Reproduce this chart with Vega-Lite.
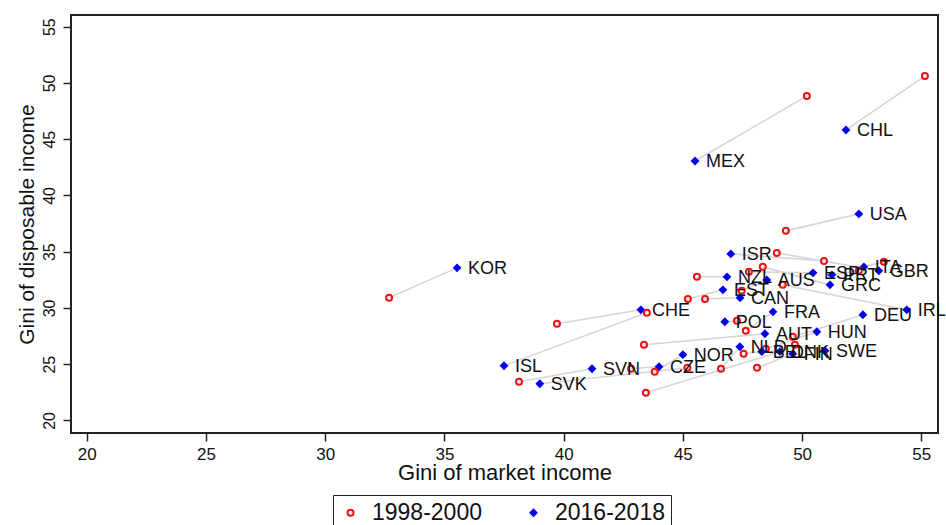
{
  "$schema": "https://vega.github.io/schema/vega-lite/v6.json",
  "width": 867,
  "height": 418,
  "autosize": {"type": "none"},
  "padding": {"left": 71, "top": 15, "right": 8, "bottom": 92},
  "background": "white",
  "config": {
    "font": "Liberation Sans",
    "view": {"stroke": "#222222", "strokeWidth": 2},
    "axis": {"grid": false, "domain": false, "tickColor": "#222222", "tickSize": 8, "tickWidth": 1.5, "labelColor": "#111111", "titleColor": "#111111", "titleFontWeight": "normal"}
  },
  "data": {
    "values": [
      {"country": "CHL", "period": "1998-2000", "market": 55.15, "disposable": 50.61},
      {"country": "CHL", "period": "2016-2018", "market": 51.84, "disposable": 45.82},
      {"country": "MEX", "period": "1998-2000", "market": 50.2, "disposable": 48.84},
      {"country": "MEX", "period": "2016-2018", "market": 45.51, "disposable": 43.06},
      {"country": "USA", "period": "1998-2000", "market": 49.32, "disposable": 36.85},
      {"country": "USA", "period": "2016-2018", "market": 52.38, "disposable": 38.36},
      {"country": "KOR", "period": "1998-2000", "market": 32.68, "disposable": 30.9},
      {"country": "KOR", "period": "2016-2018", "market": 35.53, "disposable": 33.56},
      {"country": "ISR", "period": "1998-2000", "market": 50.92, "disposable": 34.18},
      {"country": "ISR", "period": "2016-2018", "market": 47.01, "disposable": 34.8},
      {"country": "GBR", "period": "1998-2000", "market": 48.94, "disposable": 34.89},
      {"country": "GBR", "period": "2016-2018", "market": 53.22, "disposable": 33.3},
      {"country": "ITA", "period": "1998-2000", "market": 53.43, "disposable": 34.1},
      {"country": "ITA", "period": "2016-2018", "market": 52.59, "disposable": 33.65},
      {"country": "PRT", "period": "1998-2000", "market": 52.38, "disposable": 33.3},
      {"country": "PRT", "period": "2016-2018", "market": 51.25, "disposable": 32.94},
      {"country": "ESP", "period": "1998-2000", "market": 47.77, "disposable": 33.21},
      {"country": "ESP", "period": "2016-2018", "market": 50.46, "disposable": 33.12},
      {"country": "GRC", "period": "1998-2000", "market": 48.35, "disposable": 33.65},
      {"country": "GRC", "period": "2016-2018", "market": 51.17, "disposable": 32.05},
      {"country": "AUS", "period": "1998-2000", "market": 47.47, "disposable": 31.52},
      {"country": "AUS", "period": "2016-2018", "market": 48.52, "disposable": 32.49},
      {"country": "NZL", "period": "1998-2000", "market": 45.59, "disposable": 32.76},
      {"country": "NZL", "period": "2016-2018", "market": 46.85, "disposable": 32.76},
      {"country": "EST", "period": "1998-2000", "market": 45.21, "disposable": 30.8},
      {"country": "EST", "period": "2016-2018", "market": 46.68, "disposable": 31.61},
      {"country": "CAN", "period": "1998-2000", "market": 45.93, "disposable": 30.8},
      {"country": "CAN", "period": "2016-2018", "market": 47.4, "disposable": 30.9},
      {"country": "FRA", "period": "1998-2000", "market": 47.64, "disposable": 27.97},
      {"country": "FRA", "period": "2016-2018", "market": 48.78, "disposable": 29.65},
      {"country": "POL", "period": "1998-2000", "market": 47.27, "disposable": 28.85},
      {"country": "POL", "period": "2016-2018", "market": 46.76, "disposable": 28.77},
      {"country": "AUT", "period": "1998-2000", "market": 43.37, "disposable": 26.72},
      {"country": "AUT", "period": "2016-2018", "market": 48.44, "disposable": 27.7},
      {"country": "DEU", "period": "1998-2000", "market": 49.61, "disposable": 27.43},
      {"country": "DEU", "period": "2016-2018", "market": 52.55, "disposable": 29.39},
      {"country": "IRL", "period": "1998-2000", "market": 49.19, "disposable": 32.05},
      {"country": "IRL", "period": "2016-2018", "market": 54.39, "disposable": 29.83},
      {"country": "CHE", "period": "1998-2000", "market": 39.72, "disposable": 28.59},
      {"country": "CHE", "period": "2016-2018", "market": 43.24, "disposable": 29.83},
      {"country": "ISL", "period": "1998-2000", "market": 43.49, "disposable": 29.56},
      {"country": "ISL", "period": "2016-2018", "market": 37.5, "disposable": 24.86},
      {"country": "SVN", "period": "1998-2000", "market": 38.13, "disposable": 23.44},
      {"country": "SVN", "period": "2016-2018", "market": 41.19, "disposable": 24.59},
      {"country": "CZE", "period": "1998-2000", "market": 42.83, "disposable": 24.59},
      {"country": "CZE", "period": "2016-2018", "market": 44.0, "disposable": 24.77},
      {"country": "SVK", "period": "1998-2000", "market": 45.19, "disposable": 24.68},
      {"country": "SVK", "period": "2016-2018", "market": 39.0, "disposable": 23.26},
      {"country": "NOR", "period": "1998-2000", "market": 43.82, "disposable": 24.33},
      {"country": "NOR", "period": "2016-2018", "market": 45.0, "disposable": 25.84},
      {"country": "HUN", "period": "1998-2000", "market": 48.48, "disposable": 26.37},
      {"country": "HUN", "period": "2016-2018", "market": 50.62, "disposable": 27.88},
      {"country": "NLD", "period": "1998-2000", "market": 46.6, "disposable": 24.59},
      {"country": "NLD", "period": "2016-2018", "market": 47.39, "disposable": 26.55},
      {"country": "BEL", "period": "1998-2000", "market": 47.55, "disposable": 25.92},
      {"country": "BEL", "period": "2016-2018", "market": 48.31, "disposable": 26.11},
      {"country": "DNK", "period": "1998-2000", "market": 43.45, "disposable": 22.46},
      {"country": "DNK", "period": "2016-2018", "market": 49.07, "disposable": 26.11},
      {"country": "FIN", "period": "1998-2000", "market": 48.11, "disposable": 24.68},
      {"country": "FIN", "period": "2016-2018", "market": 49.61, "disposable": 25.92},
      {"country": "SWE", "period": "1998-2000", "market": 49.7, "disposable": 26.72},
      {"country": "SWE", "period": "2016-2018", "market": 50.96, "disposable": 26.19}
    ]
  },
  "encoding": {
    "x": {
      "field": "market", "type": "quantitative",
      "scale": {"domain": [19.34, 55.7], "nice": false, "zero": false},
      "axis": {"values": [20, 25, 30, 35, 40, 45, 50, 55], "title": "Gini of market income", "labelFontSize": 17, "labelPadding": 5, "titleFontSize": 22, "titlePadding": 0}
    },
    "y": {
      "field": "disposable", "type": "quantitative",
      "scale": {"domain": [18.88, 56.04], "nice": false, "zero": false},
      "axis": {"values": [20, 25, 30, 35, 40, 45, 50, 55], "title": "Gini of disposable income", "labelFontSize": 16, "labelAngle": -90, "labelAlign": "center", "labelBaseline": "bottom", "labelPadding": 6, "titleFontSize": 21, "titlePadding": 4}
    }
  },
  "layer": [
    {
      "mark": {"type": "line", "color": "#d6d6d6", "strokeWidth": 1.6},
      "encoding": {"detail": {"field": "country"}, "order": {"field": "period"}}
    },
    {
      "mark": {"type": "point", "strokeWidth": 2, "opacity": 1, "size": 36},
      "encoding": {
        "shape": {
          "field": "period", "type": "nominal",
          "scale": {"domain": ["1998-2000", "2016-2018"], "range": ["circle", "diamond"]},
          "legend": {"title": null, "orient": "none", "legendX": 262, "legendY": 480, "direction": "horizontal", "columns": 2, "strokeColor": "#222222", "padding": 6, "labelFontSize": 23, "labelColor": "#111111", "symbolSize": 36, "symbolStrokeWidth": 2, "columnPadding": 40, "labelOffset": 10}
        },
        "stroke": {
          "field": "period", "type": "nominal",
          "scale": {"domain": ["1998-2000", "2016-2018"], "range": ["#ee1111", "#0000ee"]}
        },
        "fill": {
          "field": "period", "type": "nominal",
          "scale": {"domain": ["1998-2000", "2016-2018"], "range": ["transparent", "#0000ee"]}
        }
      }
    },
    {
      "transform": [{"filter": "datum.period == '2016-2018'"}],
      "mark": {"type": "text", "align": "left", "baseline": "middle", "dx": 11, "dy": 1, "fontSize": 18, "color": "#111111"},
      "encoding": {"text": {"field": "country"}}
    }
  ]
}
